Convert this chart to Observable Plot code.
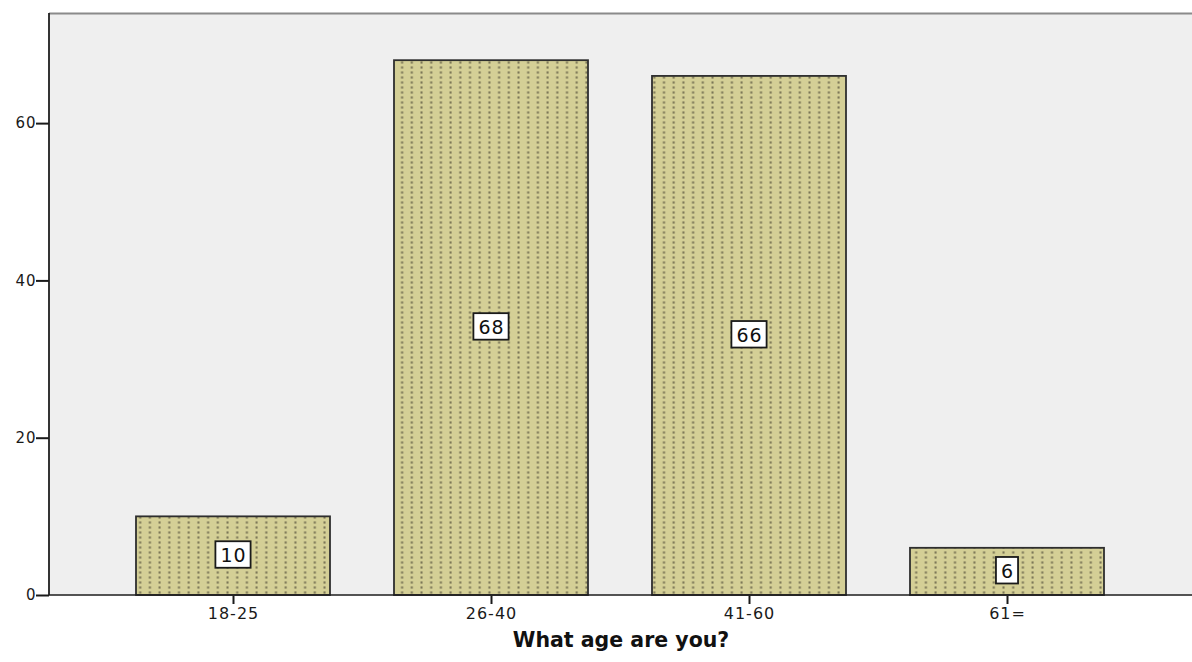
<!DOCTYPE html>
<html>
<head>
<meta charset="utf-8">
<script src="https://cdn.jsdelivr.net/npm/d3@7"></script>
<script src="https://cdn.jsdelivr.net/npm/@observablehq/plot@0.6"></script>
<style>
  html, body { margin: 0; padding: 0; background: #fff; overflow: hidden; }
  #chart svg { display: block; }
  #chart svg g[aria-label^="y-axis"] line,
  #chart svg g[aria-label^="y-axis"] path { stroke-width: 2px; }
  #chart svg g[aria-label^="x-axis"] line,
  #chart svg g[aria-label^="x-axis"] path { stroke-width: 2px; }
  #chart svg g[aria-label^="x-axis"] text { font-size: 16px; letter-spacing: 1px; }
  #chart svg g[aria-label^="y-axis"] text { font-size: 15px; letter-spacing: 1px; }
</style>
</head>
<body>
<div id="chart"></div>
<script>
// Respondents by age group
const ages = ["18-25", "26-40", "41-60", "61="];
const counts = [10, 68, 66, 6];
const yTicks = [0, 20, 40, 60];
const titleText = "What age are you?";

const data = ages.map((age, i) => ({age, count: counts[i]}));

const width = 1192;
const height = 662;
const fontFamily = "'DejaVu Sans', Verdana, sans-serif";

// Dotted vertical hatching used to fill the bars
function barPattern() {
  const defs = d3.create("svg:defs");
  const p = defs.append("pattern")
    .attr("id", "age-dots")
    .attr("patternUnits", "userSpaceOnUse")
    .attr("width", 9.7)
    .attr("height", 5);
  p.append("rect").attr("width", 9.7).attr("height", 5).attr("fill", "#d4cf96");
  p.append("rect").attr("x", 3.4).attr("y", 1.4).attr("width", 2).attr("height", 2.2).attr("fill", "#7a7556");
  return defs.node();
}

// Left and bottom axis lines of the plotting area
function axisLines(index, scales, values, dims) {
  const g = d3.create("svg:g");
  const left = dims.marginLeft;
  const right = dims.width - dims.marginRight;
  const top = dims.marginTop;
  const base = scales.y(0);
  g.append("line")
    .attr("x1", left).attr("x2", left)
    .attr("y1", top).attr("y2", base)
    .attr("stroke", "#1e1e1e").attr("stroke-width", 1.8);
  g.append("line")
    .attr("x1", left).attr("x2", right)
    .attr("y1", base).attr("y2", base)
    .attr("stroke", "#1e1e1e").attr("stroke-width", 1.5);
  return g.node();
}

const yMax = 74;

const chart = Plot.plot({
  width,
  height,
  marginLeft: 49,
  marginRight: 0,
  marginTop: 13,
  marginBottom: 67,
  style: {fontFamily, fontSize: "15px", color: "#1a1a1a", background: "#fff"},
  x: {
    domain: ages,
    paddingInner: 0.248,
    paddingOuter: 0.339,
    tickSize: 9,
    tickPadding: 3,
    label: null
  },
  y: {
    domain: [0, yMax],
    ticks: yTicks,
    tickSize: 13,
    tickPadding: 0,
    label: null
  },
  marks: [
    barPattern,
    Plot.frame({fill: "#efefef", stroke: "none"}),
    Plot.ruleY([yMax], {stroke: "#8a8a8a", strokeWidth: 2}),
    Plot.barY(data, {
      x: "age",
      y: "count",
      fill: "url(#age-dots)",
      stroke: "#2e2e2e",
      strokeWidth: 1.8
    }),
    Plot.text(data, {
      x: "age",
      y: d => d.count / 2,
      text: d => String(d.count),
      fontSize: 19,
      fill: "#111"
    }),
    axisLines,
    Plot.text([titleText], {
      frameAnchor: "bottom",
      dy: 51,
      text: d => d,
      fontSize: 20.5,
      fontWeight: "bold",
      fill: "#111"
    })
  ]
});

document.getElementById("chart").append(chart);

// White boxes behind the value labels
const labelGroup = chart.querySelectorAll('g[aria-label="text"]')[0];
if (labelGroup) {
  labelGroup.setAttribute("letter-spacing", "1");
  labelGroup.querySelectorAll("text").forEach(t => {
    const b = t.getBBox();
    const r = document.createElementNS("http://www.w3.org/2000/svg", "rect");
    const padLeft = 5, padRight = 4, padTop = 3, padBottom = 1.5;
    r.setAttribute("x", b.x - padLeft);
    r.setAttribute("y", b.y - padTop);
    r.setAttribute("width", b.width + padLeft + padRight);
    r.setAttribute("height", b.height + padTop + padBottom);
    r.setAttribute("fill", "#fff");
    r.setAttribute("stroke", "#1a1a1a");
    r.setAttribute("stroke-width", 1.8);
    if (t.getAttribute("transform")) r.setAttribute("transform", t.getAttribute("transform"));
    t.parentNode.insertBefore(r, t);
  });
}
</script>
</body>
</html>
